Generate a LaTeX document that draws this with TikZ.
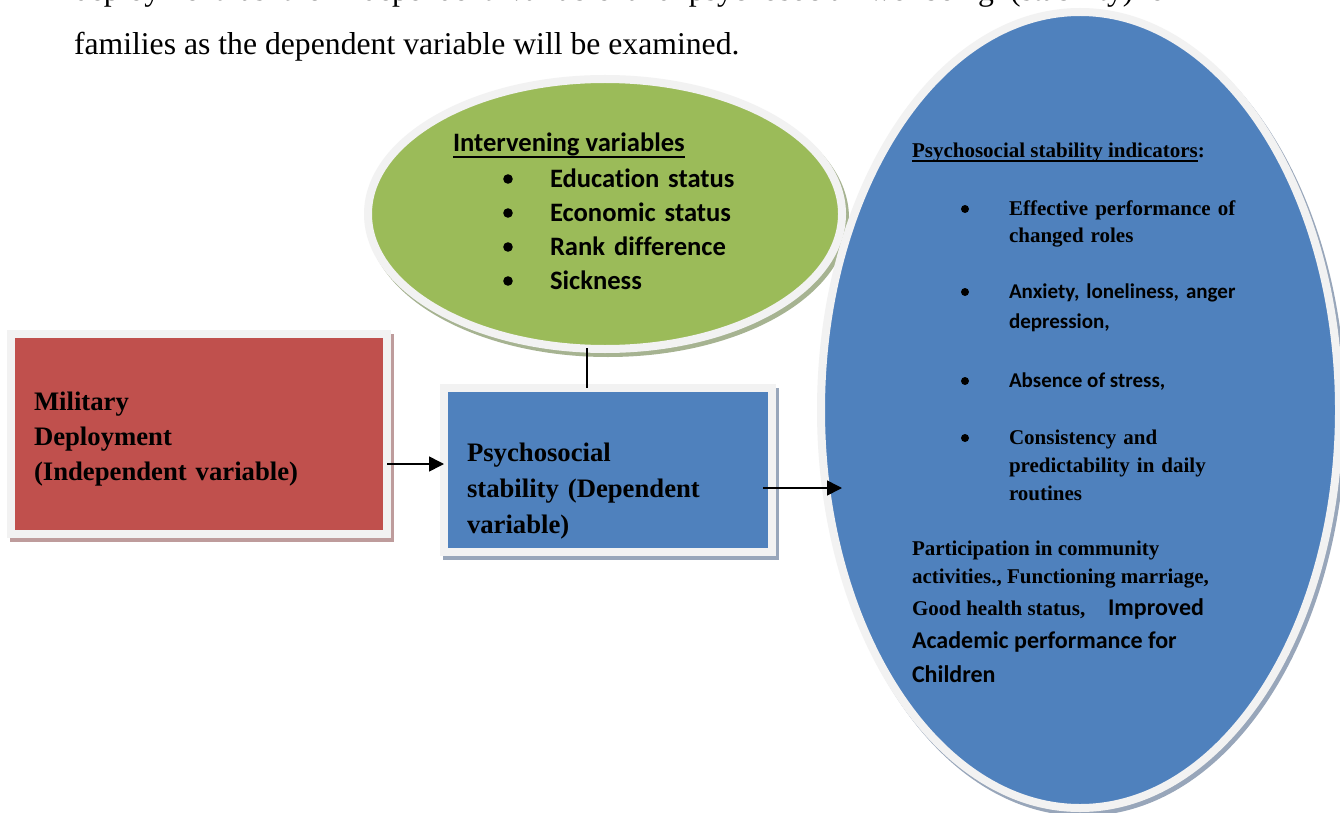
\documentclass[tikz,border=0pt]{standalone}
\usepackage{fontspec}
\setmainfont{Liberation Serif}
\newfontfamily\calib{Carlito}[Ligatures=NoCommon]
\usetikzlibrary{shapes.geometric,arrows.meta,shadows,calc}
\definecolor{redf}{HTML}{C0504D}
\definecolor{bluef}{HTML}{4F81BD}
\definecolor{greenf}{HTML}{9BBB59}
\definecolor{frameg}{HTML}{F2F2F2}
\definecolor{shred}{HTML}{BE9C9C}
\definecolor{shblue}{HTML}{98A6BA}
\definecolor{shgreen}{HTML}{A6B391}
\newcommand\ulx[2]{\setbox0\hbox{#2}\rlap{\rule[-#1]{\wd0}{1.5pt}}\box0}
\tikzset{
  shadowed/.style={drop shadow={shadow xshift=3pt, shadow yshift=-4pt, opacity=1, fill=#1, draw=#1, line width=8pt}},
  framed/.style={draw=frameg, line width=8pt, inner sep=0pt, outer sep=0pt},
  tx/.style={anchor=base west, inner sep=0pt, outer sep=0pt, align=left, text=black},
  conn/.style={line width=1.6pt, draw=black},
  arr/.style={conn, -{Triangle[length=15pt,width=15pt]}},
  tnr/.style={font=\fontsize{26.7}{35}\selectfont\bfseries},
  sml/.style={font=\fontsize{21}{27}\selectfont\bfseries},
  cal/.style={font=\fontsize{21}{30}\selectfont\calib\bfseries},
}
\begin{document}
\begin{tikzpicture}[x=1pt,y=-1pt]
\clip (0,0) rectangle (1340,813);
\fill[white] (0,0) rectangle (1340,813);

% top paragraph text
\node[tx, font=\fontsize{31.7}{55}\selectfont] (par1) at (74,1)
  {\makebox[1102pt][s]{deployment as the independent variable and psychosocial wellbeing (stability) of}};
\node[tx, font=\fontsize{31.7}{55}\selectfont] (par2) at (74,55)
  {families as the dependent variable will be examined.};

% shapes
\node[framed, ellipse, fill=greenf, minimum width=474pt, minimum height=270pt, shadowed=shgreen] (gre) at (605,214) {};
\node[framed, ellipse, fill=bluef, minimum width=518pt, minimum height=796pt, shadowed=shblue] (bige) at (1080,410) {};
\node[framed, rectangle, fill=redf, minimum width=376pt, minimum height=200.5pt, shadowed=shred] (red) at (199,434) {};
\node[framed, rectangle, fill=bluef, minimum width=328pt, minimum height=164pt, shadowed=shblue] (blue) at (608,470) {};

% red box text
\node[tx, tnr, text width=330pt] (redt) at (34,410)
  {Military\\Deployment\\(Independent variable)};
% blue box text
\node[tx, tnr, font=\fontsize{26.7}{36}\selectfont\bfseries, text width=300pt] (bluet) at (467,461)
  {Psychosocial\\stability (Dependent\\variable)};

% green ellipse text
\node[tx, font=\fontsize{26.6}{34}\selectfont\calib\bfseries] (gt0) at (453,152)
  {\ulx{6pt}{Intervening variables}};
\node[tx, font=\fontsize{26.6}{34}\selectfont\calib\bfseries, text width=260pt] (gi) at (550,187)
  {Education status\\Economic status\\Rank difference\\Sickness};
\foreach \k in {0,1,2,3}
  \fill ($(gi.base west)+(-42,-8+34*\k)$) circle (4.8pt);

% big ellipse text
\node[tx, sml] (bt0) at (912,158)
  {\ulx{3.5pt}{Psychosocial stability indicators}:};
\node[tx, sml, text width=280pt] (b1) at (1009,215)
  {Effective performance of\\changed roles};
\node[tx, cal, text width=280pt] (b2) at (1009,298)
  {Anxiety, loneliness, anger\\depression,};
\node[tx, cal] (b3) at (1009,387) {Absence of stress,};
\node[tx, sml, font=\fontsize{21}{28}\selectfont\bfseries, text width=280pt] (b4) at (1009,444)
  {Consistency and\\predictability in daily\\routines};
\foreach \n in {b1,b2,b3,b4}
  \fill ($(\n.base west)+(-44,-6)$) circle (4pt);

\node[tx, sml] (p1) at (912,555) {Participation in community};
\node[tx, sml] (p2) at (912,583) {activities., Functioning marriage,};
\node[tx, sml] (p3) at (912,615)
  {\makebox[196pt][l]{Good health status,}{\fontsize{24}{30}\selectfont\calib\bfseries Improved}};
\node[tx, font=\fontsize{24}{30}\selectfont\calib\bfseries] (p4) at (912,648) {Academic performance for};
\node[tx, font=\fontsize{24}{30}\selectfont\calib\bfseries] (p5) at (912,682) {Children};

% connectors
\coordinate (a1) at ($(red.east)+(0,30)$);
\draw[arr] (a1) -- (a1 -| blue.west);
\coordinate (a2s) at ($(blue.east)+(-9,18)$);
\coordinate (a2e) at ($(bige.center)+(-238,78)$);
\draw[arr] (a2s) -- (a2e);
\coordinate (v1) at ($(gre.south)+(-18,-1)$);
\draw[conn] (v1) -- (v1 |- blue.north);
\end{tikzpicture}
\end{document}
